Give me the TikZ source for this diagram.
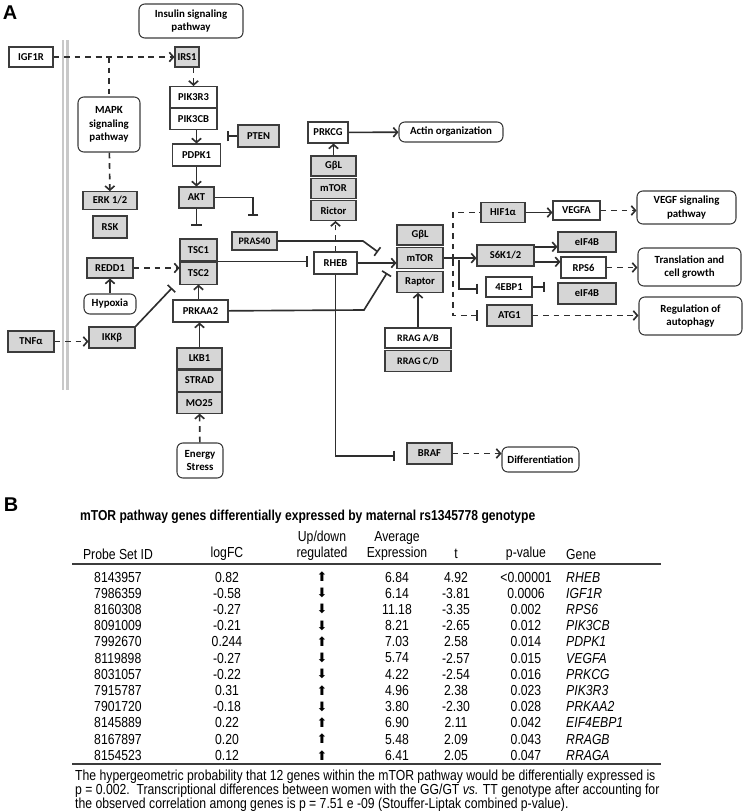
\documentclass[tikz,border=0pt]{standalone}
\usepackage{fontspec}
\setmainfont{Carlito}
\newfontfamily\tabfont[FakeStretch=0.84]{Liberation Sans}
\newfontfamily\headfont{Liberation Sans}
\newfontfamily\arrfont{DejaVu Sans}
\usepackage{tikz}
\usetikzlibrary{arrows.meta,positioning,calc}

\definecolor{boxline}{HTML}{3C3C3C}
\definecolor{genegray}{HTML}{D6D6D6}
\definecolor{membranegray}{HTML}{C8C8C8}
\definecolor{ink}{HTML}{2E2E2E}

\newcommand{\uarr}{{\arrfont\fontsize{11}{11}\selectfont ⬆}}
\newcommand{\darr}{{\arrfont\fontsize{11}{11}\selectfont ⬇}}

\tikzset{
  gene/.style={draw=boxline, line width=0.9pt, fill=white, minimum width=1.35cm,
    minimum height=0.63cm, inner sep=0pt, font=\bfseries\fontsize{9}{10}\selectfont},
  ggene/.style={gene, fill=genegray},
  pathway/.style={draw=boxline, line width=0.9pt, fill=white, rounded corners=5pt,
    align=center, inner sep=0pt, font=\bfseries\fontsize{9.3}{11.5}\selectfont},
  act/.style={draw=ink, line width=1.4pt, -{Straight Barb[length=3.5pt,width=8pt]}},
  dact/.style={act, dash pattern=on 5pt off 4pt},
  inh/.style={draw=ink, line width=1.4pt, -{Bar[width=9pt]}},
  dinh/.style={inh, dash pattern=on 5pt off 4pt},
  dline/.style={draw=ink, line width=1.4pt, dash pattern=on 5pt off 4pt},
  tabcell/.style={font=\tabfont\fontsize{12.4}{13.6}\selectfont, inner sep=0pt},
}

\begin{document}
\begin{tikzpicture}[x=0.03cm, y=-0.03cm]
  \useasboundingbox (0,0) rectangle (744,811);

  % cell membrane
  \draw[membranegray, line width=2pt] (63,40) -- (63,390);
  \draw[membranegray, line width=2pt] (67.5,40) -- (67.5,390);

  \node[font=\headfont\bfseries\fontsize{17}{17}\selectfont] (lblA) at (10,13) {A};

  % upstream signals
  \node[pathway, minimum width=3.12cm, minimum height=1.02cm] (insulin) at (191,21) {Insulin signaling\\pathway};
  \node[gene, minimum width=1.32cm, minimum height=0.6cm] (igf1r) at (31,57) {IGF1R};
  \node[ggene, minimum width=0.72cm, minimum height=0.6cm] (irs1) at (187,57) {IRS1};
  \node[pathway, minimum width=1.86cm, minimum height=1.65cm] (mapk) at (109,124.5) {MAPK\\signaling\\pathway};
  \node[ggene, minimum width=1.62cm, minimum height=0.53cm] (erk) at (110,200.5) {ERK 1/2};
  \node[ggene, minimum width=1.02cm, minimum height=0.66cm] (rsk) at (110,227) {RSK};
  \node[gene, minimum width=1.41cm] (pik3r3) at (193.5,97) {PIK3R3};
  \node[gene, minimum width=1.41cm, below=0pt of pik3r3] (pik3cb) {PIK3CB};
  \node[ggene, minimum width=1.23cm, minimum height=0.66cm] (pten) at (258.5,136) {PTEN};
  \node[gene, minimum width=1.44cm, minimum height=0.66cm] (pdpk1) at (196.5,155) {PDPK1};
  \node[ggene, minimum width=1.05cm] (akt) at (196.5,197.5) {AKT};
  \node[ggene, minimum height=0.54cm, font=\bfseries\fontsize{8.5}{9}\selectfont] (pras40) at (254.5,241) {PRAS40};
  \node[ggene, minimum width=1.11cm, minimum height=0.66cm] (tsc1) at (198.5,250) {TSC1};
  \node[ggene, minimum width=1.11cm, minimum height=0.66cm, below=0pt of tsc1] (tsc2) {TSC2};
  \node[ggene, minimum width=1.38cm, minimum height=0.6cm] (redd1) at (110,268) {REDD1};
  \node[pathway, minimum width=1.56cm, minimum height=0.6cm] (hypoxia) at (110,304) {Hypoxia};
  \node[ggene, minimum width=1.38cm] (ikkb) at (112,337.5) {IKKβ};
  \node[ggene, minimum width=1.38cm] (tnfa) at (31,341.5) {TNFα};
  \node[gene, minimum width=1.65cm, minimum height=0.66cm] (prkaa2) at (200.5,311) {PRKAA2};
  \node[ggene] (lkb1) at (199.5,358.5) {LKB1};
  \node[ggene, below=0pt of lkb1] (strad) {STRAD};
  \node[ggene, below=0pt of strad] (mo25) {MO25};
  \node[pathway, minimum width=1.38cm, minimum height=1.05cm] (energy) at (200,460.5) {Energy\\Stress};

  % mTORC2 side
  \node[gene, minimum width=1.2cm] (prkcg) at (328,132.5) {PRKCG};
  \node[pathway, minimum width=3.12cm, minimum height=0.6cm] (actin) at (451,132) {Actin organization};
  \node[ggene, minimum height=0.6cm] (gbla) at (333.5,166) {GβL};
  \node[ggene, minimum height=0.6cm, below=1pt of gbla] (mtora) {mTOR};
  \node[ggene, minimum height=0.6cm, below=1pt of mtora] (rictor) {Rictor};
  \node[gene, minimum width=1.29cm, minimum height=0.66cm] (rheb) at (335.5,263) {RHEB};

  % mTORC1
  \node[ggene, minimum width=1.38cm, minimum height=0.6cm] (gblb) at (420,235) {GβL};
  \node[ggene, minimum width=1.38cm, minimum height=0.62cm, below=1.5pt of gblb] (mtorb) {mTOR};
  \node[ggene, minimum width=1.38cm, below=1.5pt of mtorb] (raptor) {Raptor};
  \node[gene, minimum width=1.98cm, minimum height=0.6cm, font=\bfseries\fontsize{8.5}{9}\selectfont] (rragab) at (418,338) {RRAG A/B};
  \node[ggene, minimum width=1.98cm, font=\bfseries\fontsize{8.5}{9}\selectfont, below=1.5pt of rragab] (rragcd) {RRAG C/D};

  % downstream
  \node[ggene, minimum width=1.32cm, minimum height=0.6cm] (hif1a) at (503,212.5) {HIF1α};
  \node[gene, minimum width=1.41cm, minimum height=0.57cm] (vegfa) at (576.5,210.5) {VEGFA};
  \node[pathway, minimum width=2.97cm, minimum height=0.99cm] (vegf) at (686.5,207.5) {VEGF signaling\\pathway};
  \node[ggene, minimum width=1.71cm] (s6k) at (505.5,255.5) {S6K1/2};
  \node[ggene, minimum width=1.74cm, minimum height=0.6cm] (eifa) at (587,242) {eIF4B};
  \node[gene] (rps6) at (583.5,267.5) {RPS6};
  \node[pathway, minimum width=3.09cm, minimum height=1.14cm] (transl) at (689.5,267) {Translation and\\cell growth};
  \node[gene, minimum width=1.38cm, minimum height=0.6cm] (ebp1) at (509,287) {4EBP1};
  \node[ggene, minimum width=1.74cm] (eifb) at (587,293.5) {eIF4B};
  \node[ggene] (atg1) at (509.5,315.5) {ATG1};
  \node[pathway, minimum width=3.09cm, minimum height=1.14cm] (autoph) at (690.5,316) {Regulation of\\autophagy};
  \node[ggene] (braf) at (429.5,453.5) {BRAF};
  \node[pathway, minimum width=2.31cm, minimum height=0.75cm] (diff) at (540.5,459.5) {Differentiation};

  % free ends of the inhibition lines
  \coordinate (ptenend) at (227,136);
  \coordinate (aktend) at (196.5,226);
  \coordinate (prasend) at (253,216);
  \coordinate (prasbend) at (363,241);
  \coordinate (mtorhita) at (378,252);
  \coordinate (ampkbend) at (364,310);
  \coordinate (mtorhitb) at (387,273);
  \coordinate (ikkend) at (172,288);
  \coordinate (brafend) at (395,456);
  \coordinate (mtorfork) at (459,260);
  \coordinate (mtordash) at (453,260);
  \coordinate (ebpend) at (478,289);
  \coordinate (atgend) at (478,315.5);

  \draw[dact] (igf1r) -- (irs1);
  \draw[dline] (mapk.north |- igf1r.east) -- (mapk);
  \draw[dact] (mapk) -- (erk);
  \draw[dact] (pik3r3.north |- irs1.south) -- (pik3r3);
  \draw[act] (pdpk1.north |- pik3cb.south) -- (pdpk1);
  \draw[inh] (pten) -- (ptenend);
  \draw[act] (pdpk1) -- (akt);
  \draw[inh] (akt) -- (aktend);
  \draw[inh] (akt) -| (prasend);
  \draw[inh, shorten >=5pt] (tsc1.south east) -- (tsc1.south east -| rheb.west);
  \draw[act] (rheb) -- (rheb -| mtorb.west);
  \draw[dact] (rheb.north) -- (rheb.north |- rictor.south);
  \draw[act] (gbla.north) -- (gbla.north |- prkcg.south);
  \draw[act] (prkcg) -- (actin);
  \draw[inh] (pras40) -- (prasbend) -- (mtorhita);
  \draw[inh] (prkaa2) -- (ampkbend) -- (mtorhitb);
  \draw[act] (tsc2.south |- prkaa2.north) -- (tsc2);
  \draw[act] (lkb1.north) -- (lkb1.north |- prkaa2.south);
  \draw[dact] (energy) -- (mo25);
  \draw[dact] (redd1) -- (redd1 -| tsc2.west);
  \draw[act] (hypoxia) -- (redd1);
  \draw[dact] (tnfa) -- (tnfa -| ikkb.west);
  \draw[inh] (ikkb.north east) -- (ikkend);
  \draw[inh] (rheb) |- (brafend);
  \draw[dact] (braf) -- (braf -| diff.west);
  \draw[act] (rragab.north) -- (rragab.north |- raptor.south);
  \draw[act] (mtorb) -- (mtorb -| s6k.west);
  \draw[inh] (mtorfork) |- (ebpend);
  \draw[dline] (mtordash) |- (hif1a);
  \draw[dinh] (mtordash) |- (atgend);
  \draw[act] (hif1a) -- (hif1a -| vegfa.west);
  \draw[dact] (vegfa) -- (vegfa -| vegf.west);
  \draw[act] ([yshift=-2pt]s6k.north east) -- ([yshift=-2pt]s6k.north east -| eifa.west);
  \draw[act] ([yshift=4pt]s6k.south east) -- ([yshift=4pt]s6k.south east -| rps6.west);
  \draw[inh, shorten >=11pt] (ebp1) -- (ebp1 -| eifb.west);
  \draw[dact] (rps6) -- (rps6 -| transl.west);
  \draw[dact] (atg1) -- (atg1 -| autoph.west);

  % part B: table
  \node[font=\headfont\bfseries\fontsize{17}{17}\selectfont] (lblB) at (11,505) {B};
  \node[anchor=west, font=\tabfont\bfseries\fontsize{12.3}{13}\selectfont] (title) at (76,517)
    {mTOR pathway genes differentially expressed by maternal rs1345778 genotype};
  \node[tabcell] (hprobe) at (118,554) {Probe Set ID};
  \node[tabcell] (hfc) at (227,554) {logFC};
  \node[tabcell, align=center] (hud) at (322,546) {Up/down\\regulated};
  \node[tabcell, align=center] (havg) at (397,546) {Average\\Expression};
  \node[tabcell] (ht) at (456,554) {t};
  \node[tabcell] (hp) at (526,554) {p-value};
  \node[tabcell, anchor=west] (hgene) at (566,554) {Gene};
  \draw[boxline, line width=1.2pt] (72,564) -- (661,564);
  \foreach \probe/\fc/\dir/\avg/\tval/\pval/\gene [count=\r] in {
      8143957/0.82/\uarr/6.84/4.92/{<0.00001}/RHEB,
      7986359/-0.58/\darr/6.14/-3.81/0.0006/IGF1R,
      8160308/-0.27/\darr/11.18/-3.35/0.002/RPS6,
      8091009/-0.21/\darr/8.21/-2.65/0.012/PIK3CB,
      7992670/0.244/\uarr/7.03/2.58/0.014/PDPK1,
      8119898/-0.27/\darr/5.74/-2.57/0.015/VEGFA,
      8031057/-0.22/\darr/4.22/-2.54/0.016/PRKCG,
      7915787/0.31/\uarr/4.96/2.38/0.023/PIK3R3,
      7901720/-0.18/\darr/3.80/-2.30/0.028/PRKAA2,
      8145889/0.22/\uarr/6.90/2.11/0.042/EIF4EBP1,
      8167897/0.20/\uarr/5.48/2.09/0.043/RRAGB,
      8154523/0.12/\uarr/6.41/2.05/0.047/RRAGA} {
    \pgfmathsetmacro{\rowy}{577+16.2*(\r-1)}
    \node[tabcell] (probe\r) at (118,\rowy) {\probe};
    \node[tabcell] (fc\r) at (227,\rowy) {\fc};
    \node[tabcell] (dir\r) at (322,\rowy) {\dir};
    \node[tabcell] (avg\r) at (397,\rowy) {\avg};
    \node[tabcell] (t\r) at (456,\rowy) {\tval};
    \node[tabcell] (p\r) at (526,\rowy) {\pval};
    \node[tabcell, anchor=west] (gene\r) at (566,\rowy) {\itshape\gene};
  }
  \draw[boxline, line width=1.2pt] (72,764) -- (661,764);
  \node[tabcell, anchor=west] (note1) at (75,777)
    {The hypergeometric probability that 12 genes within the mTOR pathway would be differentially expressed is};
  \node[tabcell, anchor=west] (note2) at (75,791)
    {p = 0.002.\ \ Transcriptional differences between women with the GG/GT \textit{vs.} TT genotype after accounting for};
  \node[tabcell, anchor=west] (note3) at (75,805)
    {the observed correlation among genes is p = 7.51 e -09 (Stouffer-Liptak combined p-value).};
\end{tikzpicture}
\end{document}
